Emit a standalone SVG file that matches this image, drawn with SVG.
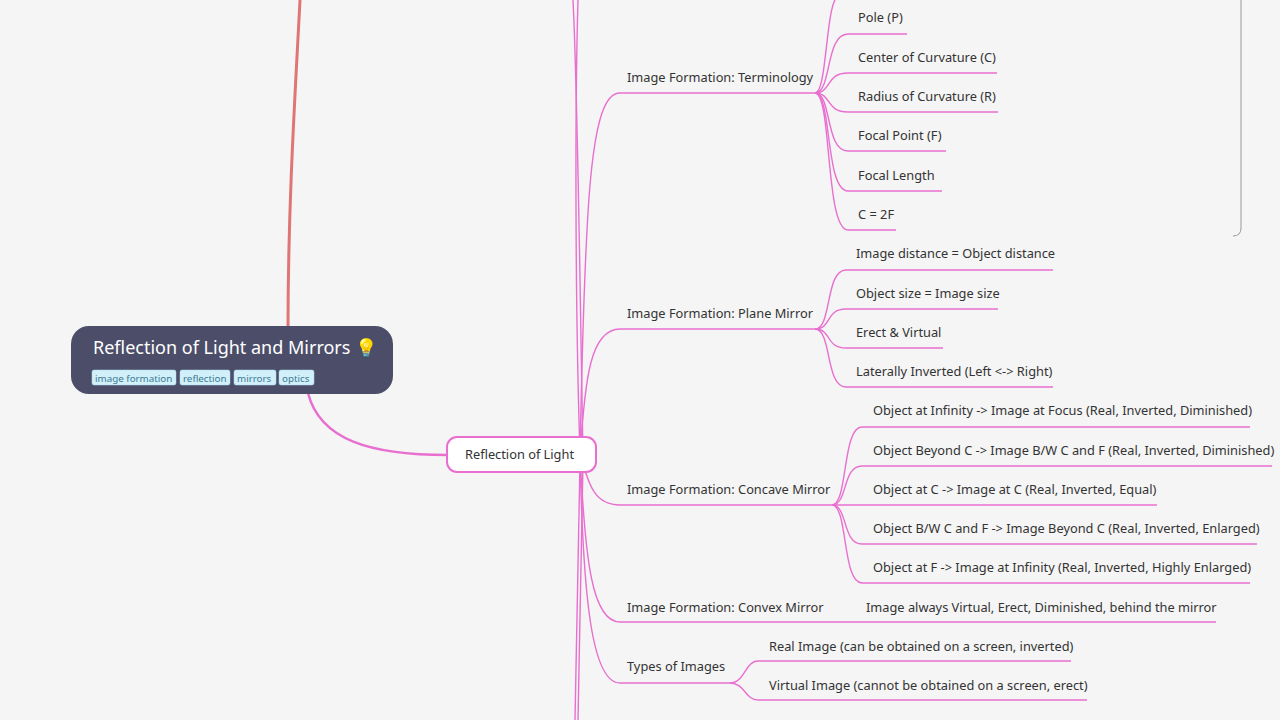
<svg xmlns="http://www.w3.org/2000/svg" width="1280" height="720" viewBox="0 0 1280 720">
<style>
text{font-family:"Noto Sans","Liberation Sans",sans-serif;font-size:12.8px;fill:#333}
.c{fill:none;stroke:#e86fd0;stroke-width:1.4}
.tag{fill:#d2f0fa;stroke:#a9dcee;stroke-width:0.5}
.tt{font-size:9.8px;fill:#3a7a95}
</style>
<rect width="1280" height="720" fill="#f5f5f5"/>
<g id="connectors">
<path d="M300,0 C296,80 288,200 288,328" fill="none" stroke="#e07575" stroke-width="3"/>
<path d="M308,393 C320,440 370,455 448,455" fill="none" stroke="#e86fd0" stroke-width="2.5"/>
<path class="c" d="M580,454 C575,300 575,100 578,0"/>
<path class="c" d="M583,454 C580,300 578,100 573,0"/>
<path class="c" d="M580,454 C585,200 590,93 620,93 H815"/>
<path class="c" d="M580,454 C585,380 590,329 620,329 H815"/>
<path class="c" d="M580,454 C588,480 592,505 620,505 H832"/>
<path class="c" d="M580,454 C585,560 592,622 620,622 H1216"/>
<path class="c" d="M580,454 C583,600 592,683 620,683 H730"/>
<path class="c" d="M580,462 C578,600 576,680 575,720"/>
<path class="c" d="M583,462 C581,600 579,680 578,720"/>
<path class="c" d="M815,93 C828,93 825,-5 840,-5"/>
<path class="c" d="M815,93 C832,93 825,34 848,34 H907"/>
<path class="c" d="M815,93 C832,93 825,73 848,73 H997"/>
<path class="c" d="M815,93 C832,93 825,112 848,112 H998"/>
<path class="c" d="M815,93 C832,93 825,151 848,151 H946"/>
<path class="c" d="M815,93 C832,93 825,191 848,191 H942"/>
<path class="c" d="M815,93 C832,93 825,230 848,230 H896"/>
<path class="c" d="M815,329 C832,329 825,270 846,270 H1053"/>
<path class="c" d="M815,329 C832,329 825,309 846,309 H998"/>
<path class="c" d="M815,329 C832,329 825,348 846,348 H943"/>
<path class="c" d="M815,329 C832,329 825,387 846,387 H1053"/>
<path class="c" d="M832,505 C848,505 842,427 862,427 H1250"/>
<path class="c" d="M832,505 C848,505 842,466 862,466 H1272"/>
<path class="c" d="M832,505 H1157"/>
<path class="c" d="M832,505 C848,505 842,544 862,544 H1257"/>
<path class="c" d="M832,505 C848,505 842,583 862,583 H1250"/>
<path class="c" d="M730,683 C745,683 745,661 758,661 H1071"/>
<path class="c" d="M730,683 C745,683 745,700 758,700 H1087"/>
<path d="M1241,0 V228 Q1241,236 1233,236" fill="none" stroke="#999" stroke-width="1"/>
</g>
<g id="root">
<rect x="71" y="326" width="322" height="68" rx="18" fill="#4c4e69"/>
<text x="93" y="354" style="font-size:18px;fill:#fff">Reflection of Light and Mirrors 💡</text>
<rect class="tag" x="92" y="370" width="84" height="15" rx="2"/><text class="tt" x="95" y="382">image formation</text>
<rect class="tag" x="180" y="370" width="50" height="15" rx="2"/><text class="tt" x="183" y="382">reflection</text>
<rect class="tag" x="234" y="370" width="42" height="15" rx="2"/><text class="tt" x="237" y="382">mirrors</text>
<rect class="tag" x="279" y="370" width="35" height="15" rx="2"/><text class="tt" x="282" y="382">optics</text>
</g>
<g id="reflection">
<rect x="447" y="437" width="149" height="35" rx="10" fill="#fff" stroke="#e86fd0" stroke-width="2"/>
<text x="465" y="459">Reflection of Light</text>
</g>
<g id="terminology"><text x="627" y="82">Image Formation: Terminology</text></g>
<g id="t1"><text x="858" y="22">Pole (P)</text></g>
<g id="t2"><text x="858" y="62">Center of Curvature (C)</text></g>
<g id="t3"><text x="858" y="101">Radius of Curvature (R)</text></g>
<g id="t4"><text x="858" y="140">Focal Point (F)</text></g>
<g id="t5"><text x="858" y="180">Focal Length</text></g>
<g id="t6"><text x="858" y="219">C = 2F</text></g>
<g id="plane"><text x="627" y="318">Image Formation: Plane Mirror</text></g>
<g id="p1"><text x="856" y="258">Image distance = Object distance</text></g>
<g id="p2"><text x="856" y="298">Object size = Image size</text></g>
<g id="p3"><text x="856" y="337">Erect &amp; Virtual</text></g>
<g id="p4"><text x="856" y="376">Laterally Inverted (Left &lt;-&gt; Right)</text></g>
<g id="concave"><text x="627" y="494">Image Formation: Concave Mirror</text></g>
<g id="c1"><text x="873" y="415">Object at Infinity -&gt; Image at Focus (Real, Inverted, Diminished)</text></g>
<g id="c2"><text x="873" y="455">Object Beyond C -&gt; Image B/W C and F (Real, Inverted, Diminished)</text></g>
<g id="c3"><text x="873" y="494">Object at C -&gt; Image at C (Real, Inverted, Equal)</text></g>
<g id="c4"><text x="873" y="533">Object B/W C and F -&gt; Image Beyond C (Real, Inverted, Enlarged)</text></g>
<g id="c5"><text x="873" y="572">Object at F -&gt; Image at Infinity (Real, Inverted, Highly Enlarged)</text></g>
<g id="convex"><text x="627" y="612">Image Formation: Convex Mirror</text><text x="866" y="612">Image always Virtual, Erect, Diminished, behind the mirror</text></g>
<g id="types"><text x="627" y="671">Types of Images</text></g>
<g id="ty1"><text x="769" y="651">Real Image (can be obtained on a screen, inverted)</text></g>
<g id="ty2"><text x="769" y="690">Virtual Image (cannot be obtained on a screen, erect)</text></g>
</svg>
